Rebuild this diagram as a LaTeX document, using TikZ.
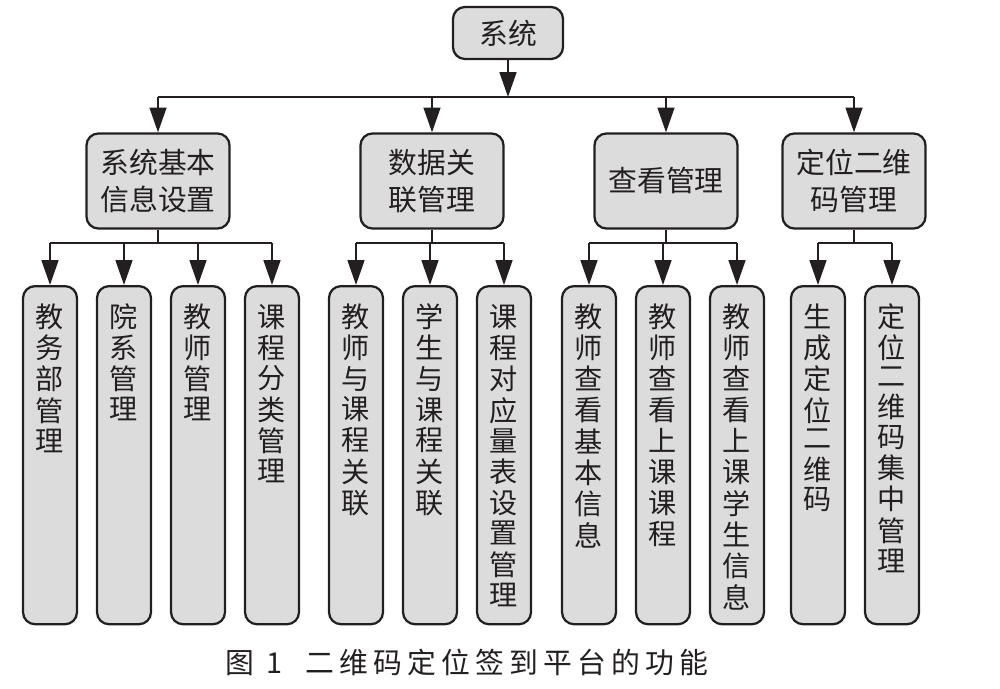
\documentclass[tikz,border=0pt]{standalone}
\usepackage{fontspec}
\setmainfont{Noto Sans CJK SC}
\usetikzlibrary{arrows.meta}

\definecolor{boxgray}{RGB}{220,220,220}
\definecolor{ink}{RGB}{35,31,32}

\newcommand{\vstack}[1]{\begin{tabular}[t]{@{}c@{}}#1\end{tabular}}

\tikzset{
  line/.style={draw=ink, line width=1.4pt},
  arr/.style={line, -{Triangle[length=0.62cm, width=0.42cm]}},
  every box/.style={draw=ink, fill=boxgray, line width=1.6pt, rounded corners=0.3cm, text=ink},
  top box/.style={every box, minimum width=2.75cm, minimum height=1.3cm,
    font=\fontsize{20.5}{24}\selectfont},
  mid box/.style={every box, align=center, minimum width=3.575cm, minimum height=2.375cm,
    font=\fontsize{20.5}{26.3}\selectfont},
  leaf box/.style={every box, anchor=north, minimum width=1.35cm,
    inner ysep=0.425cm, text height=0.6cm, text depth=7.0cm,
    font=\fontsize{20}{18.3}\selectfont}
}

\begin{document}
\begin{tikzpicture}[x=0.025cm, y=-0.025cm]

\useasboundingbox (0,0) rectangle (1000,689);

% Knoten

\node [top box] (sys) at (508,33) {系统};

\foreach \x/\t [count=\i] in {158/{系统基本\\信息设置}, 432/{数据关\\联管理},
                              666/{查看管理}, 854/{定位二维\\码管理}}
  \node [mid box] (mid-\i) at (\x,181) {\t};

\foreach \x/\t [count=\i] in {50/{教\\务\\部\\管\\理}, 124/{院\\系\\管\\理},
                              198/{教\\师\\管\\理}, 272/{课\\程\\分\\类\\管\\理},
                              356/{教\\师\\与\\课\\程\\关\\联}, 430/{学\\生\\与\\课\\程\\关\\联},
                              504/{课\\程\\对\\应\\量\\表\\设\\置\\管\\理},
                              589/{教\\师\\查\\看\\基\\本\\信\\息}, 663/{教\\师\\查\\看\\上\\课\\课\\程},
                              737/{教\\师\\查\\看\\上\\课\\学\\生\\信\\息},
                              818/{生\\成\\定\\位\\二\\维\\码}, 892/{定\\位\\二\\维\\码\\集\\中\\管\\理}}
  \node [leaf box] (leaf-\i) at (\x,285) {\vstack{\t}};

% Verbindungen

\coordinate (bus-top) at (sys |- 0,97);
\draw [arr] (sys) -- (bus-top);
\draw [line] (mid-1 |- bus-top) -- (mid-4 |- bus-top);
\foreach \i in {1,...,4}
  \draw [arr] (mid-\i |- bus-top) -- (mid-\i);

\foreach \g/\a/\b in {1/1/4, 2/5/7, 3/8/10, 4/11/12} {
  \coordinate (bus-\g) at (mid-\g |- 0,243);
  \draw [line] (mid-\g) -- (bus-\g);
  \draw [line] (leaf-\a |- bus-\g) -- (leaf-\b |- bus-\g);
  \foreach \j in {\a,...,\b}
    \draw [arr] (leaf-\j |- bus-\g) -- (leaf-\j);
}

% Bildunterschrift

\node [text=ink, font=\fontsize{20.5}{24}\selectfont\addfontfeature{LetterSpace=18}]
  (caption) at (467,662) {图 1\hspace{0.8em}二维码定位签到平台的功能};

\end{tikzpicture}
\end{document}
